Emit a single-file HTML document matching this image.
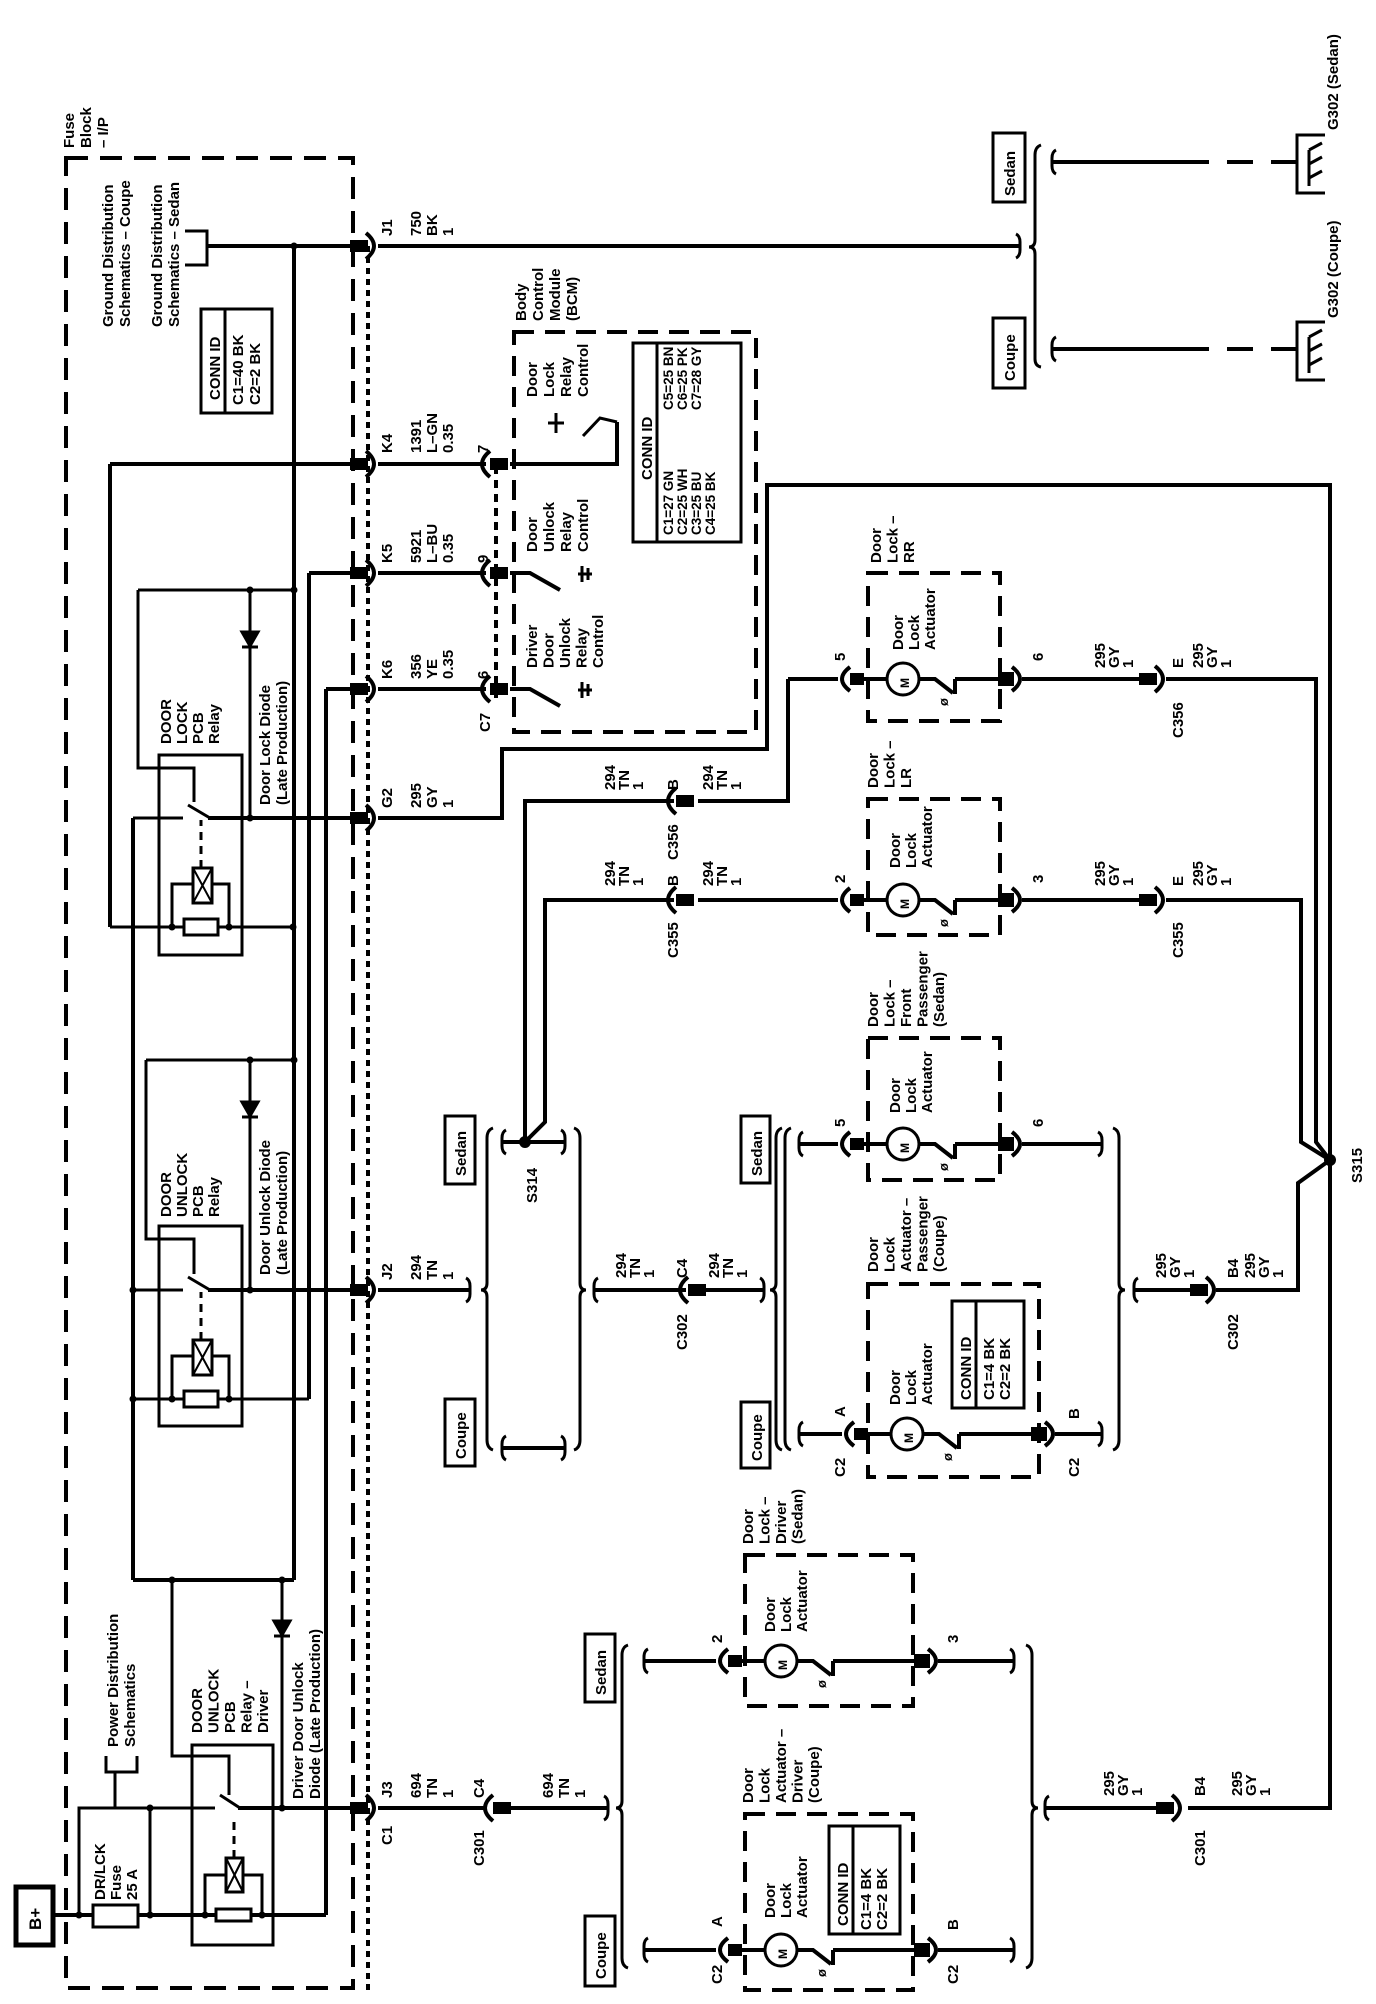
<!DOCTYPE html>
<html><head><meta charset="utf-8"><style>
html,body{margin:0;padding:0;background:#fff}
svg{display:block}
text{font-family:"Liberation Sans",Arial,sans-serif;font-weight:bold;font-size:15px;fill:#000}
</style></head><body>
<svg width="1376" height="2004" viewBox="0 0 1376 2004" xmlns="http://www.w3.org/2000/svg">
<defs>
<g id="actL" fill="none" stroke="#000" stroke-width="4">
<path d="M12 -12 Q-4 0 12 12"/>
<rect x="14" y="-4" width="10" height="8" fill="#000"/>
<line x1="24" y1="0" x2="49" y2="0"/>
<circle cx="65" cy="0" r="16" stroke-width="3"/>
<polyline points="81,0 97,0 115,14"/>
<line x1="117" y1="15" x2="117" y2="0"/>
</g>
<g id="actR" fill="none" stroke="#000" stroke-width="4">
<rect x="-22" y="-5" width="12" height="10" fill="#000"/>
<path d="M-10 -12 Q6 0 -10 12"/>
</g>
<g id="cR" fill="none" stroke="#000" stroke-width="4">
<rect x="-16" y="-4" width="14" height="8" fill="#000"/>
<path d="M-2 -13 Q14 0 -2 13"/>
</g>
<g id="cL" fill="none" stroke="#000" stroke-width="4">
<path d="M2 -13 Q-14 0 2 13"/>
<rect x="4" y="-4" width="14" height="8" fill="#000"/>
</g>
<g id="hookL" fill="none" stroke="#000" stroke-width="3"><path d="M4 -12 Q0 -10 0 -4 L0 4 Q0 10 4 12"/></g>
<g id="hookR" fill="none" stroke="#000" stroke-width="3"><path d="M-4 -12 Q0 -10 0 -4 L0 4 Q0 10 -4 12"/></g>
</defs>

<g fill="none" stroke="#000" stroke-width="4">
<rect x="66" y="158" width="287" height="1830" stroke-dasharray="22 12"/>
<line x1="368" y1="246" x2="368" y2="1990" stroke-dasharray="6 5"/>
<rect x="514" y="332" width="242" height="400" stroke-dasharray="20 11"/>
<line x1="496" y1="466" x2="496" y2="700" stroke-dasharray="8 6"/>

<polyline points="185,231 207,231 207,265 185,265" stroke-width="3"/>
<line x1="207" y1="246" x2="352" y2="246"/>
<line x1="378" y1="246" x2="1020" y2="246"/>
<line x1="110" y1="464" x2="352" y2="464"/>
<line x1="378" y1="464" x2="486" y2="464"/>
<polyline points="510,464 617,464 617,422"/>
<line x1="309" y1="573" x2="352" y2="573"/>
<line x1="378" y1="573" x2="486" y2="573"/>
<line x1="326" y1="689" x2="352" y2="689"/>
<line x1="378" y1="689" x2="486" y2="689"/>
<line x1="208" y1="818" x2="352" y2="818"/>
<polyline points="378,818 502,818 502,749 767,749 767,485 1330,485 1330,1808 1188,1808"/>
<line x1="208" y1="1290" x2="352" y2="1290"/>
<line x1="378" y1="1290" x2="470" y2="1290"/>
<line x1="238" y1="1808" x2="352" y2="1808"/>
<line x1="378" y1="1808" x2="487" y2="1808"/>
<line x1="508" y1="1808" x2="608" y2="1808"/>

<polyline points="510,573 530,573 560,590"/>
<polyline points="510,689 530,689 560,706"/>
<polyline points="583,436 600,418 617,422" stroke-width="3"/>
<line x1="556" y1="413" x2="556" y2="433" stroke-width="3"/>
<line x1="548" y1="423" x2="564" y2="423" stroke-width="3"/>
<g stroke-width="3">
<line x1="582" y1="566" x2="582" y2="582"/><line x1="588" y1="568" x2="588" y2="580"/><line x1="578" y1="574" x2="592" y2="574"/>
<line x1="582" y1="682" x2="582" y2="698"/><line x1="588" y1="684" x2="588" y2="696"/><line x1="578" y1="690" x2="592" y2="690"/>
</g>

<line x1="294" y1="246" x2="294" y2="1580"/>
<line x1="309" y1="573" x2="309" y2="1399"/>
<line x1="326" y1="689" x2="326" y2="1915"/>
<line x1="110" y1="464" x2="110" y2="927"/>
<line x1="133" y1="818" x2="133" y2="1580"/>
<line x1="133" y1="1580" x2="294" y2="1580"/>
<rect x="159" y="755" width="83" height="200" stroke-width="3"/>
<line x1="110" y1="927" x2="293" y2="927" stroke-width="3"/>
<polyline points="172,927 172,884 229,884 229,927" stroke-width="3"/>
<line x1="201" y1="868" x2="201" y2="820" stroke-dasharray="8 6" stroke-width="3"/>
<line x1="133" y1="818" x2="183" y2="818" stroke-width="3"/>
<line x1="188" y1="805" x2="210" y2="818" stroke-width="3"/>
<polyline points="138,590 138,768 194,768 194,802" stroke-width="3"/>
<line x1="138" y1="590" x2="294" y2="590" stroke-width="3"/>
<line x1="250" y1="590" x2="250" y2="818" stroke-width="3"/>
<rect x="159" y="1226" width="83" height="200" stroke-width="3"/>
<line x1="133" y1="1399" x2="309" y2="1399" stroke-width="3"/>
<polyline points="172,1399 172,1356 229,1356 229,1399" stroke-width="3"/>
<line x1="201" y1="1340" x2="201" y2="1292" stroke-dasharray="8 6" stroke-width="3"/>
<line x1="133" y1="1290" x2="183" y2="1290" stroke-width="3"/>
<line x1="188" y1="1277" x2="210" y2="1290" stroke-width="3"/>
<polyline points="146,1060 146,1239 194,1239 194,1274" stroke-width="3"/>
<line x1="146" y1="1060" x2="294" y2="1060" stroke-width="3"/>
<line x1="250" y1="1060" x2="250" y2="1290" stroke-width="3"/>
<rect x="192" y="1745" width="81" height="200" stroke-width="3"/>
<line x1="53" y1="1915" x2="326" y2="1915"/>
<polyline points="205,1915 205,1875 262,1875 262,1915" stroke-width="3"/>
<line x1="234" y1="1858" x2="234" y2="1820" stroke-dasharray="8 6" stroke-width="3"/>
<polyline points="79,1915 79,1808 215,1808" stroke-width="3"/>
<line x1="220" y1="1795" x2="240" y2="1808" stroke-width="3"/>
<line x1="238" y1="1808" x2="352" y2="1808" stroke-width="3"/>
<polyline points="172,1580 172,1756 229,1756 229,1795" stroke-width="3"/>
<line x1="282" y1="1580" x2="282" y2="1808" stroke-width="3"/>
<line x1="150" y1="1808" x2="150" y2="1915" stroke-width="3"/>
<polyline points="106,1756 106,1772 137,1772 137,1756" stroke-width="3"/>
<line x1="115" y1="1772" x2="115" y2="1808" stroke-width="3"/>
</g>
<g fill="#fff" stroke="#000" stroke-width="3">
<rect x="184" y="919" width="34" height="16"/><rect x="193" y="868" width="19" height="35"/>
<rect x="184" y="1391" width="34" height="16"/><rect x="193" y="1340" width="19" height="35"/>
<rect x="216" y="1909" width="35" height="12"/><rect x="226" y="1858" width="17" height="34"/>
<rect x="93" y="1905" width="45" height="22"/>
</g>
<g stroke="#000" stroke-width="2">
<line x1="193" y1="868" x2="212" y2="903"/><line x1="212" y1="868" x2="193" y2="903"/>
<line x1="193" y1="1340" x2="212" y2="1375"/><line x1="212" y1="1340" x2="193" y2="1375"/>
<line x1="226" y1="1858" x2="243" y2="1892"/><line x1="243" y1="1858" x2="226" y2="1892"/>
</g>
<g fill="#000" stroke="#000" stroke-width="3">
<polygon points="242,632 258,632 250,646"/><line x1="242" y1="647" x2="258" y2="647"/>
<polygon points="242,1102 258,1102 250,1116"/><line x1="242" y1="1117" x2="258" y2="1117"/>
<polygon points="274,1621 290,1621 282,1635"/><line x1="274" y1="1636" x2="290" y2="1636"/>
</g>
<g fill="#000">
<circle cx="294" cy="246" r="3.5"/><circle cx="294" cy="590" r="3.5"/><circle cx="250" cy="590" r="3.5"/>
<circle cx="250" cy="818" r="3.5"/><circle cx="172" cy="927" r="3.5"/><circle cx="229" cy="927" r="3.5"/><circle cx="293" cy="927" r="3.5"/>
<circle cx="250" cy="1060" r="3.5"/><circle cx="294" cy="1060" r="3.5"/><circle cx="250" cy="1290" r="3.5"/><circle cx="133" cy="1290" r="3.5"/>
<circle cx="133" cy="1399" r="3.5"/><circle cx="172" cy="1399" r="3.5"/><circle cx="229" cy="1399" r="3.5"/>
<circle cx="282" cy="1580" r="3.5"/><circle cx="172" cy="1580" r="3.5"/><circle cx="282" cy="1808" r="3.5"/><circle cx="150" cy="1808" r="3.5"/><circle cx="150" cy="1915" r="3.5"/>
<circle cx="79" cy="1915" r="3.5"/><circle cx="205" cy="1915" r="3.5"/><circle cx="262" cy="1915" r="3.5"/>
<circle cx="525" cy="1142" r="6"/><circle cx="1330" cy="1160" r="6"/>
</g>

<use href="#cR" x="368" y="246"/><use href="#cR" x="368" y="464"/><use href="#cR" x="368" y="573"/>
<use href="#cR" x="368" y="689"/><use href="#cR" x="368" y="818"/><use href="#cR" x="368" y="1290"/><use href="#cR" x="368" y="1808"/>
<use href="#cL" x="488" y="464"/><use href="#cL" x="488" y="573"/><use href="#cL" x="488" y="689"/>
<use href="#cL" x="491" y="1808"/>
<use href="#cR" x="1174" y="1808"/>

<g fill="none" stroke="#000" stroke-width="4">
<line x1="1052" y1="162" x2="1183" y2="162"/><line x1="1183" y1="162" x2="1297" y2="162" stroke-dasharray="26 18"/>
<line x1="1052" y1="349" x2="1183" y2="349"/><line x1="1183" y1="349" x2="1297" y2="349" stroke-dasharray="26 18"/>
<path d="M1041 145 Q1035 147 1035 155 L1035 240 Q1035 247 1029 247 Q1035 247 1035 254 L1035 359 Q1035 366 1041 367" stroke-width="3"/>
<polyline points="1325,135 1297,135 1297,193 1325,193" stroke-width="3"/>
<polyline points="1325,135 1297,135 1297,193 1325,193" transform="translate(0,187)" stroke-width="3"/>
<g stroke-width="3">
<line x1="1309" y1="186" x2="1309" y2="150"/><line x1="1309" y1="150" x2="1322" y2="143"/><line x1="1309" y1="164" x2="1322" y2="157"/><line x1="1309" y1="178" x2="1322" y2="171"/>
<line x1="1309" y1="373" x2="1309" y2="337"/><line x1="1309" y1="337" x2="1322" y2="330"/><line x1="1309" y1="351" x2="1322" y2="344"/><line x1="1309" y1="365" x2="1322" y2="358"/>
</g>
<rect x="993" y="133" width="32" height="69" stroke-width="3"/>
<rect x="993" y="318" width="32" height="70" stroke-width="3"/>

<line x1="788" y1="679" x2="838" y2="679"/>
<polyline points="788,679 788,801 698,801"/>
<line x1="955" y1="679" x2="1000" y2="679"/>
<line x1="1022" y1="679" x2="1141" y2="679"/>
<polyline points="1166,679 1316,679 1316,1142 1330,1160"/>
<polyline points="674,801 525,801 525,1142"/>
<line x1="698" y1="900" x2="838" y2="900"/>
<polyline points="674,900 545,900 545,1122 525,1142"/>
<line x1="955" y1="900" x2="1000" y2="900"/>
<line x1="1022" y1="900" x2="1141" y2="900"/>
<polyline points="1166,900 1301,900 1301,1142 1330,1160"/>
<line x1="799" y1="1144" x2="838" y2="1144"/>
<line x1="955" y1="1144" x2="1000" y2="1144"/>
<line x1="1022" y1="1144" x2="1102" y2="1144"/>
<line x1="799" y1="1434" x2="842" y2="1434"/>
<line x1="959" y1="1434" x2="1033" y2="1434"/>
<line x1="1055" y1="1434" x2="1102" y2="1434"/>
<line x1="594" y1="1290" x2="686" y2="1290"/>
<line x1="705" y1="1290" x2="764" y2="1290"/>
<line x1="1134" y1="1290" x2="1192" y2="1290"/>
<polyline points="1216,1290 1298,1290 1298,1183 1330,1160"/>
<line x1="502" y1="1142" x2="565" y2="1142"/>
<line x1="502" y1="1448" x2="565" y2="1448"/>
<path d="M493 1128 Q487 1130 487 1138 L487 1283 Q487 1290 481 1290 Q487 1290 487 1297 L487 1440 Q487 1448 493 1450" stroke-width="3"/>
<path d="M574 1128 Q580 1130 580 1138 L580 1283 Q580 1290 586 1290 Q580 1290 580 1297 L580 1440 Q580 1448 574 1450" stroke-width="3"/>
<path d="M782 1128 Q776 1130 776 1138 L776 1283 Q776 1290 770 1290 Q776 1290 776 1297 L776 1440 Q776 1448 782 1450" stroke-width="3"/>
<path d="M791 1128 Q785 1130 785 1138 L785 1440 Q785 1448 791 1450" stroke-width="3"/>
<path d="M1113 1128 Q1119 1130 1119 1138 L1119 1283 Q1119 1290 1125 1290 Q1119 1290 1119 1297 L1119 1440 Q1119 1448 1113 1450" stroke-width="3"/>
<path d="M628 1645 Q622 1647 622 1655 L622 1801 Q622 1808 616 1808 Q622 1808 622 1815 L622 1958 Q622 1966 628 1968" stroke-width="3"/>
<path d="M1026 1645 Q1032 1647 1032 1655 L1032 1801 Q1032 1808 1038 1808 Q1032 1808 1032 1815 L1032 1958 Q1032 1966 1026 1968" stroke-width="3"/>
<line x1="644" y1="1661" x2="716" y2="1661"/>
<line x1="833" y1="1661" x2="916" y2="1661"/>
<line x1="938" y1="1661" x2="1014" y2="1661"/>
<line x1="644" y1="1950" x2="716" y2="1950"/>
<line x1="833" y1="1950" x2="916" y2="1950"/>
<line x1="938" y1="1950" x2="1014" y2="1950"/>
<line x1="1045" y1="1808" x2="1160" y2="1808"/>
<g stroke-dasharray="20 11" stroke-width="4">
<rect x="868" y="573" width="132" height="148"/>
<rect x="868" y="799" width="132" height="136"/>
<rect x="868" y="1038" width="132" height="142"/>
<rect x="868" y="1284" width="171" height="193"/>
<rect x="745" y="1555" width="168" height="151"/>
<rect x="745" y="1814" width="168" height="176"/>
</g>
<rect x="201" y="309" width="71" height="104" stroke-width="3"/><line x1="225" y1="309" x2="225" y2="413" stroke-width="3"/>
<rect x="633" y="343" width="108" height="199" stroke-width="3"/><line x1="657" y1="343" x2="657" y2="542" stroke-width="3"/>
<rect x="952" y="1301" width="72" height="107" stroke-width="3"/><line x1="976" y1="1301" x2="976" y2="1408" stroke-width="3"/>
<rect x="829" y="1826" width="71" height="108" stroke-width="3"/><line x1="853" y1="1826" x2="853" y2="1934" stroke-width="3"/>
<rect x="445" y="1116" width="30" height="68" stroke-width="3"/>
<rect x="445" y="1399" width="30" height="67" stroke-width="3"/>
<rect x="741" y="1116" width="29" height="67" stroke-width="3"/>
<rect x="741" y="1402" width="29" height="66" stroke-width="3"/>
<rect x="585" y="1634" width="30" height="68" stroke-width="3"/>
<rect x="585" y="1916" width="30" height="70" stroke-width="3"/>
<rect x="16" y="1887" width="37" height="58" stroke-width="5"/>
</g>
<use href="#hookL" x="1052" y="162"/><use href="#hookL" x="1052" y="349"/><use href="#hookR" x="1020" y="246"/>
<use href="#hookR" x="470" y="1290"/><use href="#hookL" x="502" y="1142"/><use href="#hookL" x="502" y="1448"/>
<use href="#hookR" x="565" y="1142"/><use href="#hookR" x="565" y="1448"/><use href="#hookL" x="594" y="1290"/><use href="#hookR" x="764" y="1290"/>
<use href="#hookL" x="799" y="1144"/><use href="#hookL" x="799" y="1434"/><use href="#hookR" x="1102" y="1144"/><use href="#hookR" x="1102" y="1434"/>
<use href="#hookL" x="1134" y="1290"/><use href="#hookR" x="608" y="1808"/><use href="#hookL" x="644" y="1661"/><use href="#hookL" x="644" y="1950"/>
<use href="#hookR" x="1014" y="1661"/><use href="#hookR" x="1014" y="1950"/><use href="#hookL" x="1045" y="1808"/>
<use href="#cL" x="674" y="801"/><use href="#cL" x="674" y="900"/><use href="#cL" x="686" y="1290"/>
<use href="#cR" x="1157" y="679"/><use href="#cR" x="1157" y="900"/><use href="#cR" x="1208" y="1290"/>
<use href="#actL" x="838" y="679"/><use href="#actR" x="1022" y="679"/>
<use href="#actL" x="838" y="900"/><use href="#actR" x="1022" y="900"/>
<use href="#actL" x="838" y="1144"/><use href="#actR" x="1022" y="1144"/>
<use href="#actL" x="842" y="1434"/><use href="#actR" x="1055" y="1434"/>
<use href="#actL" x="716" y="1661"/><use href="#actR" x="938" y="1661"/>
<use href="#actL" x="716" y="1950"/><use href="#actR" x="938" y="1950"/>

<g>
<text transform="translate(74,148) rotate(-90)"><tspan x="0">Fuse</tspan><tspan x="0" dy="17">Block</tspan><tspan x="0" dy="17">– I/P</tspan></text>
<text transform="translate(113,327) rotate(-90)"><tspan x="0">Ground Distribution</tspan><tspan x="0" dy="17">Schematics – Coupe</tspan></text>
<text transform="translate(162,327) rotate(-90)"><tspan x="0">Ground Distribution</tspan><tspan x="0" dy="17">Schematics – Sedan</tspan></text>
<text transform="translate(220,400) rotate(-90)">CONN ID</text>
<text transform="translate(243,405) rotate(-90)"><tspan x="0">C1=40 BK</tspan><tspan x="0" dy="17">C2=2 BK</tspan></text>

<text transform="translate(392,236) rotate(-90)">J1</text>
<text transform="translate(421,236) rotate(-90)"><tspan x="0">750</tspan><tspan x="0" dy="16">BK</tspan><tspan x="0" dy="16">1</tspan></text>
<text transform="translate(392,453) rotate(-90)">K4</text>
<text transform="translate(421,453) rotate(-90)"><tspan x="0">1391</tspan><tspan x="0" dy="16">L–GN</tspan><tspan x="0" dy="16">0.35</tspan></text>
<text transform="translate(488,453) rotate(-90)">7</text>
<text transform="translate(392,563) rotate(-90)">K5</text>
<text transform="translate(421,563) rotate(-90)"><tspan x="0">5921</tspan><tspan x="0" dy="16">L–BU</tspan><tspan x="0" dy="16">0.35</tspan></text>
<text transform="translate(488,563) rotate(-90)">9</text>
<text transform="translate(392,679) rotate(-90)">K6</text>
<text transform="translate(421,679) rotate(-90)"><tspan x="0">356</tspan><tspan x="0" dy="16">YE</tspan><tspan x="0" dy="16">0.35</tspan></text>
<text transform="translate(488,679) rotate(-90)">6</text>
<text transform="translate(490,732) rotate(-90)">C7</text>
<text transform="translate(392,808) rotate(-90)">G2</text>
<text transform="translate(421,808) rotate(-90)"><tspan x="0">295</tspan><tspan x="0" dy="16">GY</tspan><tspan x="0" dy="16">1</tspan></text>
<text transform="translate(392,1280) rotate(-90)">J2</text>
<text transform="translate(421,1280) rotate(-90)"><tspan x="0">294</tspan><tspan x="0" dy="16">TN</tspan><tspan x="0" dy="16">1</tspan></text>
<text transform="translate(392,1798) rotate(-90)">J3</text>
<text transform="translate(421,1798) rotate(-90)"><tspan x="0">694</tspan><tspan x="0" dy="16">TN</tspan><tspan x="0" dy="16">1</tspan></text>
<text transform="translate(392,1845) rotate(-90)">C1</text>
<text transform="translate(484,1798) rotate(-90)">C4</text>
<text transform="translate(553,1798) rotate(-90)"><tspan x="0">694</tspan><tspan x="0" dy="16">TN</tspan><tspan x="0" dy="16">1</tspan></text>
<text transform="translate(484,1866) rotate(-90)">C301</text>

<text transform="translate(526,321) rotate(-90)"><tspan x="0">Body</tspan><tspan x="0" dy="17">Control</tspan><tspan x="0" dy="17">Module</tspan><tspan x="0" dy="17">(BCM)</tspan></text>
<text transform="translate(537,397) rotate(-90)"><tspan x="0">Door</tspan><tspan x="0" dy="17">Lock</tspan><tspan x="0" dy="17">Relay</tspan><tspan x="0" dy="17">Control</tspan></text>
<text transform="translate(537,552) rotate(-90)"><tspan x="0">Door</tspan><tspan x="0" dy="17">Unlock</tspan><tspan x="0" dy="17">Relay</tspan><tspan x="0" dy="17">Control</tspan></text>
<text transform="translate(537,668) rotate(-90)"><tspan x="0">Driver</tspan><tspan x="0" dy="16.5">Door</tspan><tspan x="0" dy="16.5">Unlock</tspan><tspan x="0" dy="16.5">Relay</tspan><tspan x="0" dy="16.5">Control</tspan></text>
<text transform="translate(652,480) rotate(-90)">CONN ID</text>
<text transform="translate(673,535) rotate(-90)" style="font-size:13.5px"><tspan x="0">C1=27 GN</tspan><tspan x="0" dy="14">C2=25 WH</tspan><tspan x="0" dy="14">C3=25 BU</tspan><tspan x="0" dy="14">C4=25 BK</tspan></text>
<text transform="translate(673,410) rotate(-90)" style="font-size:13.5px"><tspan x="0">C5=25 BN</tspan><tspan x="0" dy="14">C6=25 PK</tspan><tspan x="0" dy="14">C7=28 GY</tspan></text>

<text transform="translate(171,744) rotate(-90)"><tspan x="0">DOOR</tspan><tspan x="0" dy="16">LOCK</tspan><tspan x="0" dy="16">PCB</tspan><tspan x="0" dy="16">Relay</tspan></text>
<text transform="translate(270,805) rotate(-90)"><tspan x="0">Door Lock Diode</tspan><tspan x="0" dy="17">(Late Production)</tspan></text>
<text transform="translate(171,1217) rotate(-90)"><tspan x="0">DOOR</tspan><tspan x="0" dy="16">UNLOCK</tspan><tspan x="0" dy="16">PCB</tspan><tspan x="0" dy="16">Relay</tspan></text>
<text transform="translate(270,1275) rotate(-90)"><tspan x="0">Door Unlock Diode</tspan><tspan x="0" dy="17">(Late Production)</tspan></text>
<text transform="translate(202,1733) rotate(-90)"><tspan x="0">DOOR</tspan><tspan x="0" dy="16.5">UNLOCK</tspan><tspan x="0" dy="16.5">PCB</tspan><tspan x="0" dy="16.5">Relay –</tspan><tspan x="0" dy="16.5">Driver</tspan></text>
<text transform="translate(303,1799) rotate(-90)"><tspan x="0">Driver Door Unlock</tspan><tspan x="0" dy="17">Diode (Late Production)</tspan></text>
<text transform="translate(118,1747) rotate(-90)"><tspan x="0">Power Distribution</tspan><tspan x="0" dy="17">Schematics</tspan></text>
<text transform="translate(105,1900) rotate(-90)"><tspan x="0">DR/LCK</tspan><tspan x="0" dy="16">Fuse</tspan><tspan x="0" dy="16">25 A</tspan></text>
<text transform="translate(41,1930) rotate(-90)" style="font-size:17px">B+</text>

<text transform="translate(1015,196) rotate(-90)">Sedan</text>
<text transform="translate(1015,381) rotate(-90)">Coupe</text>
<text transform="translate(1338,130) rotate(-90)">G302 (Sedan)</text>
<text transform="translate(1338,318) rotate(-90)">G302 (Coupe)</text>

<text transform="translate(881,563) rotate(-90)"><tspan x="0">Door</tspan><tspan x="0" dy="16.5">Lock –</tspan><tspan x="0" dy="16.5">RR</tspan></text>
<text transform="translate(903,650) rotate(-90)"><tspan x="0">Door</tspan><tspan x="0" dy="16">Lock</tspan><tspan x="0" dy="16">Actuator</tspan></text>
<text transform="translate(845,661) rotate(-90)">5</text>
<text transform="translate(1043,661) rotate(-90)">6</text>
<text transform="translate(1105,668) rotate(-90)"><tspan x="0">295</tspan><tspan x="0" dy="14">GY</tspan><tspan x="0" dy="14">1</tspan></text>
<text transform="translate(1183,668) rotate(-90)">E</text>
<text transform="translate(1203,668) rotate(-90)"><tspan x="0">295</tspan><tspan x="0" dy="14">GY</tspan><tspan x="0" dy="14">1</tspan></text>
<text transform="translate(1183,738) rotate(-90)">C356</text>

<text transform="translate(615,790) rotate(-90)"><tspan x="0">294</tspan><tspan x="0" dy="14">TN</tspan><tspan x="0" dy="14">1</tspan></text>
<text transform="translate(678,790) rotate(-90)">B</text>
<text transform="translate(713,790) rotate(-90)"><tspan x="0">294</tspan><tspan x="0" dy="14">TN</tspan><tspan x="0" dy="14">1</tspan></text>
<text transform="translate(678,860) rotate(-90)">C356</text>

<text transform="translate(878,788) rotate(-90)"><tspan x="0">Door</tspan><tspan x="0" dy="16.5">Lock –</tspan><tspan x="0" dy="16.5">LR</tspan></text>
<text transform="translate(900,868) rotate(-90)"><tspan x="0">Door</tspan><tspan x="0" dy="16">Lock</tspan><tspan x="0" dy="16">Actuator</tspan></text>
<text transform="translate(845,883) rotate(-90)">2</text>
<text transform="translate(1043,883) rotate(-90)">3</text>
<text transform="translate(1105,886) rotate(-90)"><tspan x="0">295</tspan><tspan x="0" dy="14">GY</tspan><tspan x="0" dy="14">1</tspan></text>
<text transform="translate(1183,886) rotate(-90)">E</text>
<text transform="translate(1203,886) rotate(-90)"><tspan x="0">295</tspan><tspan x="0" dy="14">GY</tspan><tspan x="0" dy="14">1</tspan></text>
<text transform="translate(1183,958) rotate(-90)">C355</text>
<text transform="translate(615,886) rotate(-90)"><tspan x="0">294</tspan><tspan x="0" dy="14">TN</tspan><tspan x="0" dy="14">1</tspan></text>
<text transform="translate(678,886) rotate(-90)">B</text>
<text transform="translate(713,886) rotate(-90)"><tspan x="0">294</tspan><tspan x="0" dy="14">TN</tspan><tspan x="0" dy="14">1</tspan></text>
<text transform="translate(678,958) rotate(-90)">C355</text>

<text transform="translate(878,1027) rotate(-90)"><tspan x="0">Door</tspan><tspan x="0" dy="16.5">Lock –</tspan><tspan x="0" dy="16.5">Front</tspan><tspan x="0" dy="16.5">Passenger</tspan><tspan x="0" dy="16.5">(Sedan)</tspan></text>
<text transform="translate(900,1113) rotate(-90)"><tspan x="0">Door</tspan><tspan x="0" dy="16">Lock</tspan><tspan x="0" dy="16">Actuator</tspan></text>
<text transform="translate(845,1127) rotate(-90)">5</text>
<text transform="translate(1043,1127) rotate(-90)">6</text>

<text transform="translate(878,1272) rotate(-90)"><tspan x="0">Door</tspan><tspan x="0" dy="16.5">Lock</tspan><tspan x="0" dy="16.5">Actuator –</tspan><tspan x="0" dy="16.5">Passenger</tspan><tspan x="0" dy="16.5">(Coupe)</tspan></text>
<text transform="translate(900,1405) rotate(-90)"><tspan x="0">Door</tspan><tspan x="0" dy="16">Lock</tspan><tspan x="0" dy="16">Actuator</tspan></text>
<text transform="translate(971,1400) rotate(-90)">CONN ID</text>
<text transform="translate(994,1400) rotate(-90)"><tspan x="0">C1=4 BK</tspan><tspan x="0" dy="16">C2=2 BK</tspan></text>
<text transform="translate(845,1417) rotate(-90)">A</text>
<text transform="translate(845,1477) rotate(-90)">C2</text>
<text transform="translate(1079,1419) rotate(-90)">B</text>
<text transform="translate(1079,1477) rotate(-90)">C2</text>

<text transform="translate(626,1278) rotate(-90)"><tspan x="0">294</tspan><tspan x="0" dy="14">TN</tspan><tspan x="0" dy="14">1</tspan></text>
<text transform="translate(687,1278) rotate(-90)">C4</text>
<text transform="translate(719,1278) rotate(-90)"><tspan x="0">294</tspan><tspan x="0" dy="14">TN</tspan><tspan x="0" dy="14">1</tspan></text>
<text transform="translate(687,1350) rotate(-90)">C302</text>
<text transform="translate(1166,1278) rotate(-90)"><tspan x="0">295</tspan><tspan x="0" dy="14">GY</tspan><tspan x="0" dy="14">1</tspan></text>
<text transform="translate(1238,1278) rotate(-90)">B4</text>
<text transform="translate(1255,1278) rotate(-90)"><tspan x="0">295</tspan><tspan x="0" dy="14">GY</tspan><tspan x="0" dy="14">1</tspan></text>
<text transform="translate(1238,1350) rotate(-90)">C302</text>
<text transform="translate(537,1203) rotate(-90)">S314</text>
<text transform="translate(1362,1183) rotate(-90)">S315</text>

<text transform="translate(466,1176) rotate(-90)">Sedan</text>
<text transform="translate(466,1459) rotate(-90)">Coupe</text>
<text transform="translate(762,1176) rotate(-90)">Sedan</text>
<text transform="translate(762,1461) rotate(-90)">Coupe</text>
<text transform="translate(606,1695) rotate(-90)">Sedan</text>
<text transform="translate(606,1979) rotate(-90)">Coupe</text>

<text transform="translate(753,1544) rotate(-90)"><tspan x="0">Door</tspan><tspan x="0" dy="16.5">Lock –</tspan><tspan x="0" dy="16.5">Driver</tspan><tspan x="0" dy="16.5">(Sedan)</tspan></text>
<text transform="translate(775,1632) rotate(-90)"><tspan x="0">Door</tspan><tspan x="0" dy="16">Lock</tspan><tspan x="0" dy="16">Actuator</tspan></text>
<text transform="translate(722,1643) rotate(-90)">2</text>
<text transform="translate(958,1643) rotate(-90)">3</text>
<text transform="translate(753,1803) rotate(-90)"><tspan x="0">Door</tspan><tspan x="0" dy="16.5">Lock</tspan><tspan x="0" dy="16.5">Actuator –</tspan><tspan x="0" dy="16.5">Driver</tspan><tspan x="0" dy="16.5">(Coupe)</tspan></text>
<text transform="translate(775,1918) rotate(-90)"><tspan x="0">Door</tspan><tspan x="0" dy="16">Lock</tspan><tspan x="0" dy="16">Actuator</tspan></text>
<text transform="translate(848,1926) rotate(-90)">CONN ID</text>
<text transform="translate(871,1930) rotate(-90)"><tspan x="0">C1=4 BK</tspan><tspan x="0" dy="16">C2=2 BK</tspan></text>
<text transform="translate(722,1927) rotate(-90)">A</text>
<text transform="translate(722,1984) rotate(-90)">C2</text>
<text transform="translate(958,1930) rotate(-90)">B</text>
<text transform="translate(958,1984) rotate(-90)">C2</text>
<text transform="translate(1114,1796) rotate(-90)"><tspan x="0">295</tspan><tspan x="0" dy="14">GY</tspan><tspan x="0" dy="14">1</tspan></text>
<text transform="translate(1205,1796) rotate(-90)">B4</text>
<text transform="translate(1242,1796) rotate(-90)"><tspan x="0">295</tspan><tspan x="0" dy="14">GY</tspan><tspan x="0" dy="14">1</tspan></text>
<text transform="translate(1205,1866) rotate(-90)">C301</text>

<text transform="translate(948,706) rotate(-90)" style="font-size:13px">ø</text>
<text transform="translate(948,927) rotate(-90)" style="font-size:13px">ø</text>
<text transform="translate(948,1171) rotate(-90)" style="font-size:13px">ø</text>
<text transform="translate(952,1461) rotate(-90)" style="font-size:13px">ø</text>
<text transform="translate(826,1688) rotate(-90)" style="font-size:13px">ø</text>
<text transform="translate(826,1977) rotate(-90)" style="font-size:13px">ø</text>
<text transform="translate(909,688) rotate(-90)" style="font-size:12px">M</text>
<text transform="translate(909,909) rotate(-90)" style="font-size:12px">M</text>
<text transform="translate(909,1153) rotate(-90)" style="font-size:12px">M</text>
<text transform="translate(913,1443) rotate(-90)" style="font-size:12px">M</text>
<text transform="translate(787,1670) rotate(-90)" style="font-size:12px">M</text>
<text transform="translate(787,1959) rotate(-90)" style="font-size:12px">M</text>
</g>
</svg>
</body></html>
